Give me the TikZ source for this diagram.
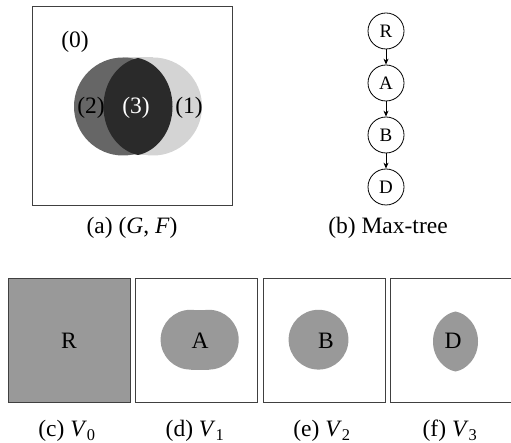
\documentclass[tikz,border=0pt]{standalone}
\usepackage{fontspec}
\setmainfont{Liberation Serif}
\usetikzlibrary{arrows.meta}
\definecolor{lightg}{HTML}{D4D4D4}
\definecolor{darkg}{HTML}{666666}
\definecolor{blackg}{HTML}{2A2A2A}
\definecolor{midg}{HTML}{999999}
\definecolor{framec}{HTML}{404040}
% lens shape: center (#1,#2), half width #3, half height #4
\newcommand{\mylens}[4]{(#1,{#2-#4})
  .. controls ({#1+0.5*#3},{#2-0.93*#4}) and ({#1+#3},{#2-0.55*#4}) .. ({#1+#3},#2)
  .. controls ({#1+#3},{#2+0.55*#4}) and ({#1+0.5*#3},{#2+0.93*#4}) .. (#1,{#2+#4})
  .. controls ({#1-0.5*#3},{#2+0.93*#4}) and ({#1-#3},{#2+0.55*#4}) .. ({#1-#3},#2)
  .. controls ({#1-#3},{#2-0.55*#4}) and ({#1-0.5*#3},{#2-0.93*#4}) .. cycle}
\begin{document}
\begin{tikzpicture}[x=1pt,y=-1pt,
  lbl/.style={font=\fontsize{23.5}{26}\selectfont, inner sep=0pt},
  tnode/.style={circle, draw, line width=0.8pt, minimum size=36pt, inner sep=0pt, font=\fontsize{19}{22}\selectfont},
  frame/.style={draw=framec, line width=1pt},
  arr/.style={-{Stealth[length=6pt,width=5pt]}, line width=0.8pt}]
\useasboundingbox (0,0) rectangle (511,443);
\fill[white] (0,0) rectangle (511,443);
% ---- panel (a)
\fill[lightg] (123,57.5) rectangle (153,155.5);
\fill[lightg] (153,106.5) circle (49);
\fill[darkg] (123,106.5) circle (49);
\fill[blackg] \mylens{138}{106.5}{34.5}{48.5};
\draw[frame] (32,7) rectangle (232,206);
\node[lbl] (l0) at (75,42) {(0)};
\node[lbl] (l2) at (91,108) {(2)};
\node[lbl, text=white] (l3) at (136,108) {(3)};
\node[lbl] (l1) at (189,108) {(1)};
\node[lbl] (capa) at (132,228) {(a) (\textit{G}, \textit{F})};
% ---- panel (b)
\node[tnode] (R) at (386,31) {R};
\node[tnode] (A) at (386,83) {A};
\node[tnode] (B) at (386,135) {B};
\node[tnode] (D) at (386,187) {D};
\draw[arr] (R) -- (A);
\draw[arr] (A) -- (B);
\draw[arr] (B) -- (D);
\node[lbl] (capb) at (388,228) {(b) Max-tree};
% ---- panel (c)
\fill[midg] (8,279) rectangle (130,402);
\draw[frame] (8,279) rectangle (130,402);
\node[lbl] (vR) at (69,341) {R};
\node[lbl] (capc) at (67,431) {(c) \textit{V}\textsubscript{0}};
% ---- panel (d)
\begin{scope}[shift={(135,279)}, scale=0.61]
  \fill[midg] (91,99.5) circle (49);
  \fill[midg] (121,99.5) circle (49);
  \fill[midg] (91,50.5) rectangle (121,148.5);
\end{scope}
\draw[frame] (135,279) rectangle (257,402);
\node[lbl] (vA) at (200,341) {A};
\node[lbl] (capd) at (195,431) {(d) \textit{V}\textsubscript{1}};
% ---- panel (e)
\begin{scope}[shift={(263,279)}, scale=0.61]
  \fill[midg] (91,99.5) circle (49);
\end{scope}
\draw[frame] (263,279) rectangle (385,402);
\node[lbl] (vB) at (326,341) {B};
\node[lbl] (cape) at (322,431) {(e) \textit{V}\textsubscript{2}};
% ---- panel (f)
\fill[midg] \mylens{455.5}{341.5}{22.5}{30};
\draw[frame] (390,279) rectangle (512,402);
\node[lbl] (vD) at (453,341) {D};
\node[lbl] (capf) at (450,431) {(f) \textit{V}\textsubscript{3}};
\end{tikzpicture}
\end{document}
